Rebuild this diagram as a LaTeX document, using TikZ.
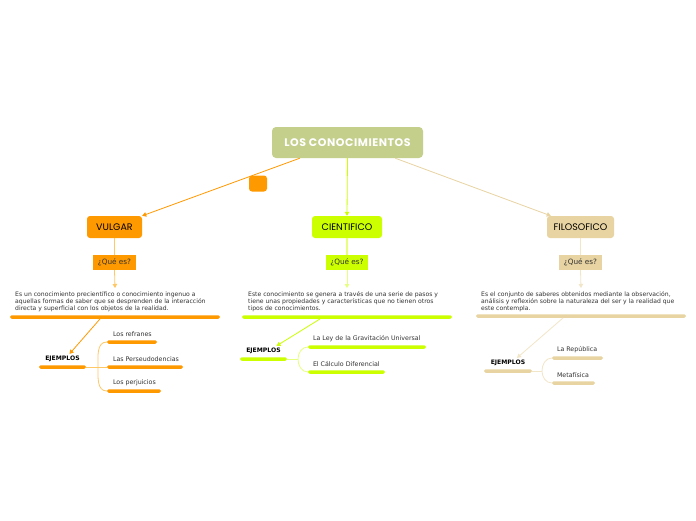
\documentclass[tikz,border=0pt]{standalone}
\usepackage{fontspec}
\setmainfont{DejaVu Sans}
\newfontfamily\popfont{Poppins}
\newfontfamily\poptitle[LetterSpace=5]{Poppins}
\usetikzlibrary{arrows.meta,calc}
\definecolor{vorange}{HTML}{FF9900}
\definecolor{vorangeL}{HTML}{FFC866}
\definecolor{clime}{HTML}{CCFF00}
\definecolor{climeL}{HTML}{E6FF80}
\definecolor{ftan}{HTML}{E8D4A2}
\definecolor{ftanL}{HTML}{F2E6C8}
\definecolor{tgreen}{HTML}{C3CF8B}
\definecolor{txt}{HTML}{333333}
\tikzset{
  titlebox/.style={fill=tgreen, rounded corners=4pt, minimum width=151pt, minimum height=31pt, inner sep=0pt, text=white, font=\poptitle\bfseries\fontsize{11}{13}\selectfont},
  mainbox/.style={fill=#1, rounded corners=3pt, minimum height=22pt, inner sep=0pt, text=black, font=\popfont\fontsize{9.5}{11}\selectfont},
  quebox/.style={fill=#1, minimum width=43pt, minimum height=15pt, inner sep=0pt, text=txt, font=\fontsize{7.3}{8}\selectfont},
  desc/.style={anchor=north west, align=left, inner sep=0pt, text=txt, font=\fontsize{6.1}{7.3}\selectfont},
  bar/.style={fill=#1, rounded corners=1.6pt, minimum height=3.5pt, inner sep=0pt},
  lbl/.style={anchor=south west, inner sep=0pt, text=txt, font=\fontsize{6.3}{7}\selectfont},
  ejl/.style={anchor=south, inner sep=0pt, text=black, font=\bfseries\fontsize{6.1}{7}\selectfont},
  arr/.style={draw=#1, line width=0.8pt, -{Triangle[length=4pt,width=4.5pt]}},
  conn/.style={draw=#1, line width=1.4pt},
  brace/.style={draw=#1, line width=0.8pt},
}
\begin{document}
\begin{tikzpicture}[x=1pt,y=-1pt]
\useasboundingbox (0,0) rectangle (696,520);
\fill[white] (0,0) rectangle (696,520);

% title
\node[titlebox] (title) at (347.5,142.5) {LOS CONOCIMIENTOS};
\node[fill=vorange, rounded corners=3pt, minimum width=18pt, minimum height=16pt, inner sep=0pt] (sq) at (258,183.5) {};

% main boxes
\node[mainbox=vorange, minimum width=55pt] (vul) at (114.5,227) {VULGAR};
\node[mainbox=clime, minimum width=70pt] (cie) at (347,227) {CIENTIFICO};
\node[mainbox=ftan, minimum width=67pt] (fil) at (580.5,227) {FILOSOFICO};

\draw[arr=vorange] ([xshift=28pt]title.south west) -- (vul.north east);
\draw[arr=clime] (title.south) -- (cie.north);
\draw[arr=ftan] ([xshift=-28pt]title.south east) -- ([xshift=4pt]fil.north west);

% que es
\node[quebox=vorange] (vq) at (114.5,262.5) {¿Qué es?};
\node[quebox=clime, minimum width=42pt] (cq) at (347,262.5) {¿Qué es?};
\node[quebox=ftan] (fq) at (580.5,262.5) {¿Qué es?};

\draw[conn=vorangeL] (vul.south) -- (vq.north);
\draw[conn=climeL] (cie.south) -- (cq.north);
\draw[conn=ftanL] (fil.south) -- (fq.north);

% descriptions
\node[desc] (vd) at (15,291) {Es un conocimiento precientífico o conocimiento ingenuo a\\aquellas formas de saber que se desprenden de la interacción\\directa y superficial con los objetos de la realidad.};
\node[desc] (cd) at (248,291) {Este conocimiento se genera a través de una serie de pasos y\\tiene unas propiedades y características que no tienen otros\\tipos de conocimientos.};
\node[desc] (fd) at (481,291) {Es el conjunto de saberes obtenidos mediante la observación,\\análisis y reflexión sobre la naturaleza del ser y la realidad que\\este contempla.};

\node[bar=vorange, minimum width=210pt] (vb) at (115,317) {};
\node[bar=clime, minimum width=210pt] (cb) at (347,317) {};
\node[bar=ftan, minimum width=210pt] (fb) at (581,316) {};

\draw[arr=vorangeL] (vq.south) -- ([yshift=3pt]vb.north |- vd.north);
\draw[arr=climeL] (cq.south) -- ([yshift=3pt]cb.north |- cd.north);
\draw[arr=ftanL] (fq.south) -- ([yshift=3pt]fb.north |- fd.north);

% EJEMPLOS
\node[bar=vorange, minimum width=47pt] (veb) at (62.5,367) {};
\node[ejl] (ve) at ([yshift=3pt]veb.north) {EJEMPLOS};
\node[bar=clime, minimum width=47pt] (ceb) at (263.5,359) {};
\node[ejl] (ce) at ([yshift=3pt]ceb.north) {EJEMPLOS};
\node[bar=ftan, minimum width=48pt] (feb) at (508,371) {};
\node[ejl] (fe) at ([yshift=3pt]feb.north) {EJEMPLOS};

\draw[arr=vorange] ([xshift=-15pt]vb.south) -- ([xshift=7pt,yshift=2pt]ve.north);
\draw[arr=clime] ([xshift=-27pt]cb.south) -- ([xshift=13pt,yshift=2pt]ce.north);
\draw[arr=ftanL] ([xshift=-18pt]fb.south) -- ([xshift=9pt,yshift=2pt]fe.north);

% examples vulgar
\node[bar=vorange, minimum width=50pt] (v1b) at (132,342) {};
\node[bar=vorange, minimum width=76pt] (v2b) at (145,367) {};
\node[bar=vorange, minimum width=54pt] (v3b) at (134,391) {};
\node[lbl] (v1) at ([xshift=6pt,yshift=3pt]v1b.north west) {Los refranes};
\node[lbl] (v2) at ([xshift=6pt,yshift=3pt]v2b.north west) {Las Perseudodencias};
\node[lbl] (v3) at ([xshift=6pt,yshift=3pt]v3b.north west) {Los perjuicios};
\coordinate (vh) at (98,367);
\draw[brace=vorangeL] (veb.east) -- (vh);
\draw[brace=vorangeL] (vh) to[out=90,in=180] (v1b.west);
\draw[brace=vorangeL] (vh) -- (v2b.west);
\draw[brace=vorangeL] (vh) to[out=-90,in=180] (v3b.west);

% examples cientifico
\node[bar=clime, minimum width=118pt] (c1b) at (367,347) {};
\node[bar=clime, minimum width=77pt] (c2b) at (346.5,372) {};
\node[lbl] (c1) at ([xshift=5pt,yshift=3pt]c1b.north west) {La Ley de la Gravitación Universal};
\node[lbl] (c2) at ([xshift=5pt,yshift=3pt]c2b.north west) {El Cálculo Diferencial};
\coordinate (ch) at (298,359);
\draw[brace=climeL] (ceb.east) -- (ch);
\draw[brace=climeL] (ch) to[out=90,in=180] (c1b.west);
\draw[brace=climeL] (ch) to[out=-90,in=180] (c2b.west);

% examples filosofico
\node[bar=ftan, minimum width=51pt] (f1b) at (577.5,358) {};
\node[bar=ftan, minimum width=43pt] (f2b) at (573.5,383) {};
\node[lbl] (f1) at ([xshift=5pt,yshift=3pt]f1b.north west) {La República};
\node[lbl] (f2) at ([xshift=5pt,yshift=3pt]f2b.north west) {Metafísica};
\coordinate (fh) at (542,371);
\draw[brace=ftanL] (feb.east) -- (fh);
\draw[brace=ftanL] (fh) to[out=90,in=180] (f1b.west);
\draw[brace=ftanL] (fh) to[out=-90,in=180] (f2b.west);
\end{tikzpicture}
\end{document}
